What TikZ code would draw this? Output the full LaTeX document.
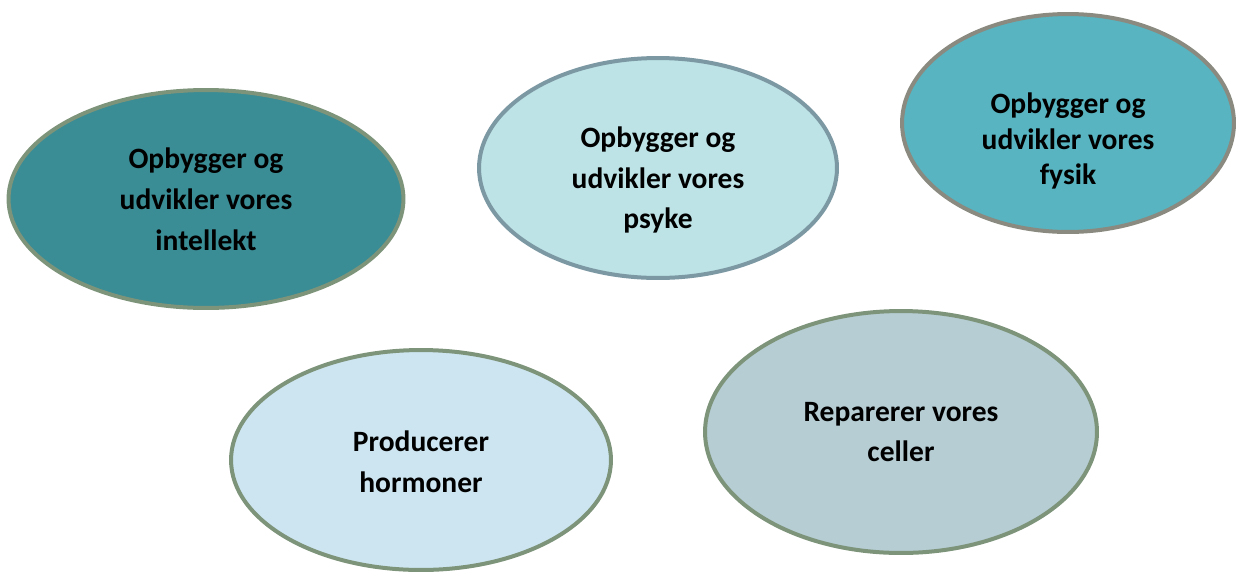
\documentclass[tikz,border=0pt]{standalone}
\usepackage{fontspec}
\setmainfont{Carlito}
\usetikzlibrary{shapes.geometric}
\definecolor{darkteal}{HTML}{3A8C95}
\definecolor{paleteal}{HTML}{BDE3E6}
\definecolor{midteal}{HTML}{57B4C0}
\definecolor{paleblue}{HTML}{CDE5F0}
\definecolor{greyblue}{HTML}{B5CDD3}
\definecolor{sagegrey}{HTML}{7D947A}
\definecolor{slategrey}{HTML}{7B98A3}
\definecolor{stonegrey}{HTML}{8A8A80}
\begin{document}
\begin{tikzpicture}[x=0.02cm,y=-0.02cm, every node/.style={font=\fontsize{16.8}{23.3}\selectfont\bfseries}]
\tikzstyle{blob}=[ellipse, line width=0.08cm, draw=sagegrey, inner sep=0pt]
\tikzstyle{txt}=[align=center, inner sep=0pt]
\useasboundingbox (0,0) rectangle (1239,572);
\node[blob, fill=darkteal, minimum width=7.9cm, minimum height=4.36cm] (intellekt) at (206,199) {};
\node[blob, fill=paleteal, draw=slategrey, minimum width=7.16cm, minimum height=4.4cm] (psyke) at (658,168) {};
\node[blob, fill=midteal, draw=stonegrey, minimum width=6.64cm, minimum height=4.36cm] (fysik) at (1068,123) {};
\node[blob, fill=paleblue, minimum width=7.6cm, minimum height=4.4cm] (hormoner) at (421,460) {};
\node[blob, fill=greyblue, minimum width=7.84cm, minimum height=4.84cm] (celler) at (901,432) {};
% texts
\node[txt] (intellekt-t) at (206,199) {Opbygger og\\udvikler vores\\intellekt};
\node[txt] (psyke-t) at (658,180) {Opbygger og\\udvikler vores\\psyke};
\node[txt, font=\fontsize{16.8}{20}\selectfont\bfseries] (fysik-t) at (1068,141) {Opbygger og\\udvikler vores\\fysik};
\node[txt] (hormoner-t) at (421,462) {Producerer\\hormoner};
\node[txt] (celler-t) at (901,432) {Reparerer vores\\celler};
\end{tikzpicture}
\end{document}
